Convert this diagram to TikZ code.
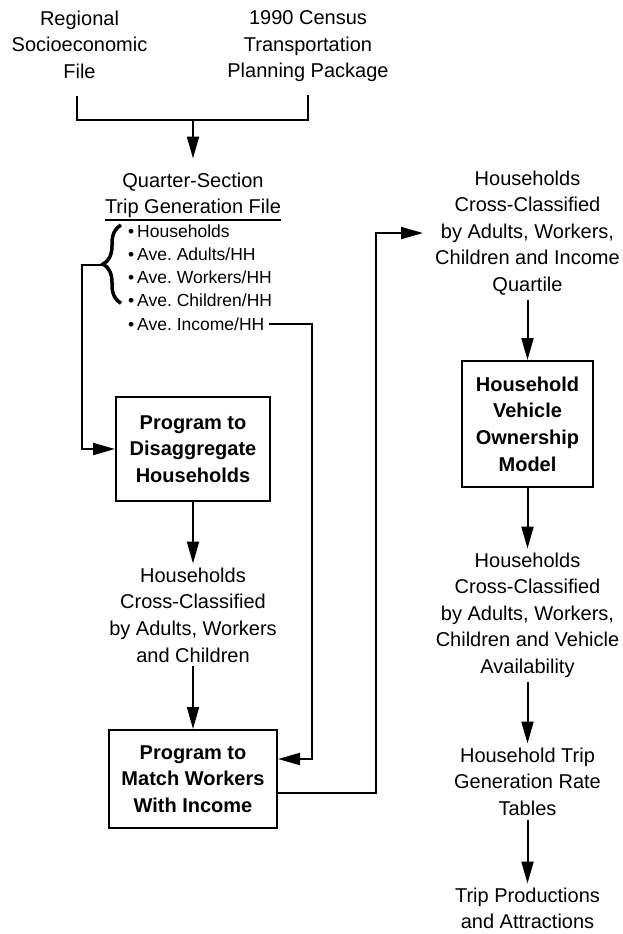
\documentclass[tikz,border=0pt]{standalone}
\usepackage{fontspec}
\setmainfont{Liberation Sans}
\usetikzlibrary{arrows.meta, positioning, decorations.pathreplacing}
\frenchspacing
\newcommand{\ulbar}[1]{\vtop{\hbox{#1}\kern1pt\hrule height 2pt}}

\begin{document}
\begin{tikzpicture}[ 
x=1pt, y=-1pt, 
txt/.style={align=center, 
inner sep=4pt, 
anchor=north, 
font=\fontsize{20}{26.6}\selectfont}, 
box/.style={draw, 
line width=2pt, 
inner sep=0pt, 
align=center, 
font=\fontsize{20}{26.6}\selectfont\bfseries}, 
bullets/.style={align=left, 
inner sep=4pt, 
font=\fontsize{17.5}{23}\selectfont}, 
line/.style={line width=2pt}, 
arrow/.style={-{Triangle[length=22pt, width=12pt]}, line width=2pt} ]

\useasboundingbox (0,0) rectangle (622,934);

\node[txt] (regional) at (79.5,6.5) {Regional\\Socioeconomic\\File}; 
\node[txt] (census) at (308,6.5) {1990 Census\\Transportation\\Planning Package}; 
\node[txt] (tgfile) at (193,168.5) {Quarter-Section\\\ulbar{Trip Generation File}}; 
\node[bullets, anchor=north west] (items) at (124,221) {\textbullet\,Households\\\textbullet\,Ave. Adults/HH\\\textbullet\,Ave. Workers/HH\\\textbullet\,Ave. Children/HH}; 
\node[bullets, anchor=base west] (income) at (124,330) {\textbullet\,Ave. Income/HH}; 
\node[box, minimum width=154pt, minimum height=104pt] (disagg) at (193,449) {Program to\\Disaggregate\\Households}; 
\node[txt] (hhawc) at (193,563.5) {Households\\Cross-Classified\\by Adults, Workers\\and Children}; 
\node[box, minimum width=168pt, minimum height=98pt] (match) at (193,779) {Program to\\Match Workers\\With Income}; 
\node[txt] (hhinc) at (527.5,166.5) {Households\\Cross-Classified\\by Adults, Workers,\\Children and Income\\Quartile}; 
\node[box, minimum width=131pt, minimum height=126pt] (vehmodel) at (527.5,424) {Household\\Vehicle\\Ownership\\Model}; 
\node[txt] (hhveh) at (527.5,548.5) {Households\\Cross-Classified\\by Adults, Workers,\\Children and Vehicle\\Availability}; 
\node[txt] (rates) at (527.5,743.5) {Household Trip\\Generation Rate\\Tables}; 
\node[txt] (trips) at (527.5,883.5) {Trip Productions\\and Attractions};

\coordinate (join) at (193,120); 
\coordinate (brtip) at (103,265);

\draw[line, shorten <=13pt] ([xshift=-3pt]regional.south) |- (join); 
\draw[line, shorten <=9pt] (census.south) |- (join); 
\draw[arrow, shorten >=10pt] (join) -- (tgfile);

\draw[line width=3.5pt, decorate, decoration={brace, amplitude=18pt}] ([xshift=-3pt,yshift=8pt]items.south west) -- ([xshift=-3pt,yshift=-4pt]items.north west); 
\draw[arrow] (brtip) -- ++(-21,0) |- (disagg); 
\draw[arrow] (income.east) -| ([xshift=34pt,yshift=20pt]match.east) -- ([yshift=20pt]match.east);

\draw[arrow] (disagg) -- (hhawc); 
\draw[arrow] (hhawc) -- (match); 
\draw[arrow, shorten >=8pt] ([yshift=-14pt]match.east) -- ++(98,0) |- (hhinc.west);

\draw[arrow] (hhinc) -- (vehmodel); 
\draw[arrow] (vehmodel) -- (hhveh); 
\draw[arrow] (hhveh) -- (rates); 
\draw[arrow] (rates) -- (trips);

\end{tikzpicture}
\end{document}
